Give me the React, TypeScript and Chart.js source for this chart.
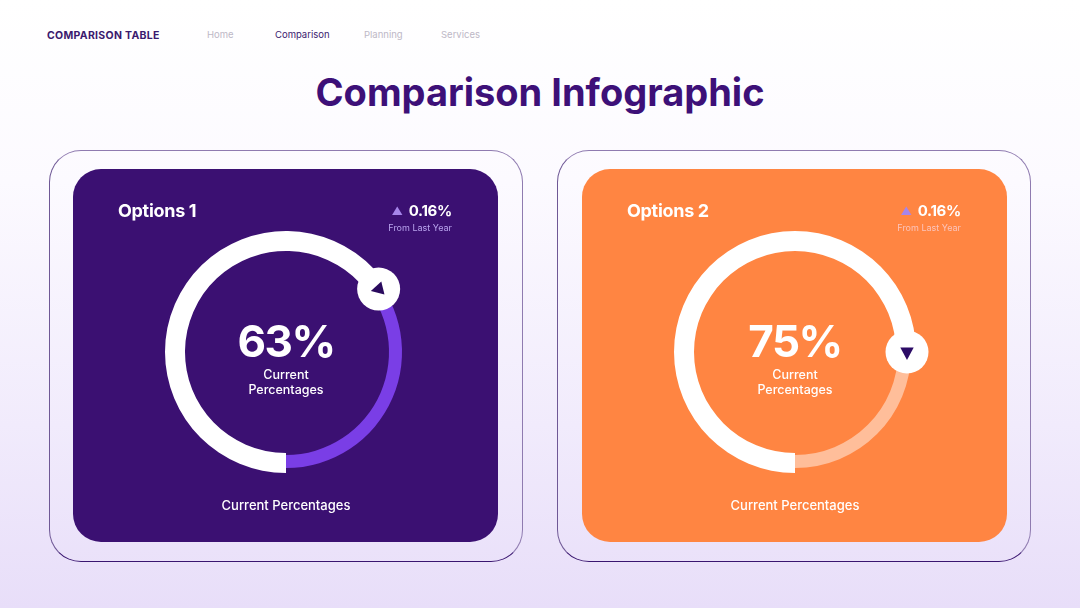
import React, { useEffect, useRef } from "react";
import { Chart, registerables } from "chart.js";

Chart.register(...registerables);

// ---- data ----
const navItems = ["Home", "Comparison", "Planning", "Services"];
const optionLabels = ["Options 1", "Options 2"];
const currentValues = [63, 75];
const markerValues = [65.5, 75];
const changeValues = ["0.16%", "0.16%"];
const changeCaption = "From Last Year";
const centerCaption = ["Current", "Percentages"];
const footerLabel = "Current Percentages";
const pageTitle = "Comparison Infographic";
const brand = "COMPARISON TABLE";

// ---- styles ----
const FONT = "Inter, 'Open Sans', sans-serif";
const cardStyles = [
  { bg: "#3B1072", rest: "#7A3EE6", caption: "#B9A4EE", tri: "#2A0A5E", triAngle: Math.PI - 0.24 },
  { bg: "#FF8542", rest: "#FFBE9A", caption: "#FCC4BC", tri: "#2C0B66", triAngle: Math.PI / 2 },
];
const outerLefts = [49, 557];
const innerLefts = [73, 582];

function Ring({ idx }: { idx: number }) {
  const ref = useRef<HTMLCanvasElement | null>(null);
  useEffect(() => {
    if (!ref.current) return;
    const st = cardStyles[idx];
    const ringPlugin = {
      id: "ringPlugin",
      beforeDatasetsDraw(chart: any) {
        const meta = chart.getDatasetMeta(0);
        const rest = meta.data[1];
        if (rest) {
          rest.innerRadius = 103;
          rest.outerRadius = 116;
        }
      },
      afterDatasetsDraw(chart: any) {
        const meta = chart.getDatasetMeta(0);
        const a0 = meta.data[0];
        const ctx = chart.ctx;
        const cx = a0.x;
        const cy = a0.y;
        const r = 112;
        const ang = a0.startAngle + (markerValues[idx] / 100) * Math.PI * 2;
        const mx = cx + r * Math.cos(ang);
        const my = cy + r * Math.sin(ang);
        ctx.save();
        ctx.beginPath();
        ctx.arc(mx, my, 21.5, 0, Math.PI * 2);
        ctx.fillStyle = "#FFFFFF";
        ctx.fill();
        const d = st.triAngle;
        const s = 8;
        const tip = [mx + Math.cos(d) * s, my + Math.sin(d) * s];
        const b1 = [mx + Math.cos(d + 2.15) * s, my + Math.sin(d + 2.15) * s];
        const b2 = [mx + Math.cos(d - 2.15) * s, my + Math.sin(d - 2.15) * s];
        ctx.beginPath();
        ctx.moveTo(tip[0], tip[1]);
        ctx.lineTo(b1[0], b1[1]);
        ctx.lineTo(b2[0], b2[1]);
        ctx.closePath();
        ctx.fillStyle = st.tri;
        ctx.fill();
        ctx.restore();
      },
    };
    const chart = new Chart(ref.current, {
      type: "doughnut",
      data: {
        labels: ["Current", "Rest"],
        datasets: [
          {
            data: [currentValues[idx], 100 - currentValues[idx]],
            backgroundColor: ["#FFFFFF", st.rest],
            borderWidth: 0,
          },
        ],
      },
      options: {
        responsive: false,
        animation: false,
        rotation: 180,
        circumference: 360,
        radius: 121,
        cutout: `${(101 / 121) * 100}%`,
        layout: { padding: 0 },
        events: [],
        plugins: { legend: { display: false }, tooltip: { enabled: false } },
      },
      plugins: [ringPlugin],
    } as any);
    return () => chart.destroy();
  }, [idx]);
  return (
    <canvas
      ref={ref}
      width={300}
      height={300}
      style={{ position: "absolute", left: 213 - 150, top: 183 - 150, width: 300, height: 300 }}
    />
  );
}

function Card({ idx }: { idx: number }) {
  const st = cardStyles[idx];
  const outerLeft = outerLefts[idx];
  const L = innerLefts[idx];
  const T = 169;
  return (
    <>
      <div
        style={{
          position: "absolute",
          left: outerLeft,
          top: 150,
          width: 474,
          height: 412,
          borderRadius: 32,
          borderStyle: "solid",
          borderWidth: 1,
          borderTopColor: "#8F7BB0",
          borderLeftColor: "#6F5896",
          borderRightColor: "#8F7BB0",
          borderBottomColor: "#3A1670",
          boxSizing: "border-box",
        }}
      />
      <div
        style={{
          position: "absolute",
          left: L,
          top: T,
          width: 425,
          height: 373,
          borderRadius: 28,
          background: st.bg,
          overflow: "hidden",
          color: "#FFFFFF",
        }}
      >
        <Ring idx={idx} />
        <div style={{ position: "absolute", left: 45, top: 31, fontSize: 18, fontWeight: 700, lineHeight: "22px", letterSpacing: -0.3 }}>
          {optionLabels[idx]}
        </div>
        <div
          style={{
            position: "absolute",
            right: 46,
            top: 32,
            fontSize: 15,
            fontWeight: 700,
            lineHeight: "20px",
            display: "flex",
            alignItems: "center",
            gap: 6,
            letterSpacing: -0.3,
          }}
        >
          <span style={{ color: "#A685EA", fontSize: 11 }}>▲</span>
          <span>{changeValues[idx]}</span>
        </div>
        <div style={{ position: "absolute", right: 46, top: 53, fontSize: 9, lineHeight: "12px", color: st.caption }}>
          {changeCaption}
        </div>
        <div
          style={{
            position: "absolute",
            left: 213 - 100,
            width: 200,
            top: 146,
            textAlign: "center",
            fontSize: 44,
            fontWeight: 700,
            lineHeight: "52px",
            letterSpacing: -1.5,
          }}
        >
          {currentValues[idx]}%
        </div>
        <div
          style={{
            position: "absolute",
            left: 213 - 100,
            width: 200,
            top: 198,
            textAlign: "center",
            fontSize: 12.5,
            fontWeight: 500,
            lineHeight: "15px",
          }}
        >
          <div>{centerCaption[0]}</div>
          <div>{centerCaption[1]}</div>
        </div>
        <div
          style={{
            position: "absolute",
            left: 213 - 150,
            width: 300,
            top: 327,
            textAlign: "center",
            fontSize: 13,
            fontWeight: 500,
            lineHeight: "18px",
          }}
        >
          {footerLabel}
        </div>
      </div>
    </>
  );
}

export default function App() {
  const navLefts = [207, 275, 364, 441];
  return (
    <div
      style={{
        position: "absolute",
        left: 0,
        top: 0,
        width: 1080,
        height: 608,
        overflow: "hidden",
        fontFamily: FONT,
        background: "linear-gradient(180deg, #FFFFFF 0%, #FCFAFF 30%, #F1EBFC 70%, #E8DEF9 100%)",
      }}
    >
      <div
        style={{
          position: "absolute",
          left: 47,
          top: 29,
          fontSize: 10.5,
          fontWeight: 700,
          color: "#3B1A6E",
          lineHeight: "14px",
          letterSpacing: 0.3,
        }}
      >
        {brand}
      </div>
      {navItems.map((n, i) => (
        <div
          key={n}
          style={{
            position: "absolute",
            left: navLefts[i],
            top: 29,
            fontSize: 9.5,
            lineHeight: "12px",
            color: i === 1 ? "#3B1A6E" : "#BDB8C6",
          }}
        >
          {n}
        </div>
      ))}
      <div
        style={{
          position: "absolute",
          left: 0,
          width: 1080,
          top: 69,
          textAlign: "center",
          fontSize: 38,
          fontWeight: 700,
          lineHeight: "46px",
          color: "#3D1078",
        }}
      >
        {pageTitle}
      </div>
      <Card idx={0} />
      <Card idx={1} />
    </div>
  );
}
